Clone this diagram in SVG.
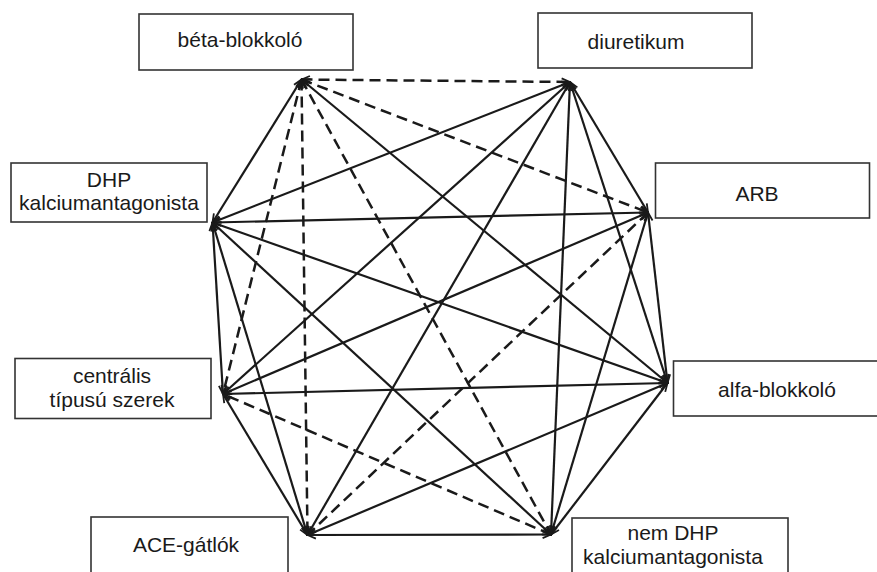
<svg xmlns="http://www.w3.org/2000/svg" width="877" height="572" viewBox="0 0 877 572">
<style>
.box{fill:#fff;stroke:#333;stroke-width:1.6}
.lbl{font-family:"Liberation Sans",Arial,sans-serif;font-size:21px;fill:#1a1a1a;text-anchor:middle}
.e{stroke:#1a1a1a;stroke-width:2.2;fill:none;marker-start:url(#ah);marker-end:url(#ah)}
.d{stroke-dasharray:11 6;stroke-width:2.5}
</style>
<defs>
<marker id="ah" markerUnits="userSpaceOnUse" markerWidth="12" markerHeight="12" refX="0" refY="0" viewBox="-9 -5 10 10" orient="auto-start-reverse">
<path d="M-7,-3 L0,0 L-7,3" fill="none" stroke="#1a1a1a" stroke-width="1.5"/>
</marker>
</defs>
<rect width="877" height="572" fill="#fff"/>
<g id="connectors">
<line class="e d" x1="301.5" y1="79.5" x2="570" y2="82"/>
<line class="e d" x1="301.5" y1="79.5" x2="648" y2="212.5"/>
<line class="e" x1="301.5" y1="79.5" x2="667.5" y2="383"/>
<line class="e d" x1="301.5" y1="79.5" x2="551" y2="534.5"/>
<line class="e d" x1="301.5" y1="79.5" x2="307.5" y2="535"/>
<line class="e d" x1="301.5" y1="79.5" x2="223" y2="394"/>
<line class="e" x1="301.5" y1="79.5" x2="212.5" y2="222.5"/>
<line class="e" x1="570" y1="82" x2="648" y2="212.5"/>
<line class="e" x1="570" y1="82" x2="667.5" y2="383"/>
<line class="e" x1="570" y1="82" x2="551" y2="534.5"/>
<line class="e" x1="570" y1="82" x2="307.5" y2="535"/>
<line class="e" x1="570" y1="82" x2="223" y2="394"/>
<line class="e" x1="570" y1="82" x2="212.5" y2="222.5"/>
<line class="e" x1="648" y1="212.5" x2="667.5" y2="383"/>
<line class="e" x1="648" y1="212.5" x2="551" y2="534.5"/>
<line class="e d" x1="648" y1="212.5" x2="307.5" y2="535"/>
<line class="e" x1="648" y1="212.5" x2="223" y2="394"/>
<line class="e" x1="648" y1="212.5" x2="212.5" y2="222.5"/>
<line class="e" x1="667.5" y1="383" x2="551" y2="534.5"/>
<line class="e" x1="667.5" y1="383" x2="307.5" y2="535"/>
<line class="e" x1="667.5" y1="383" x2="223" y2="394"/>
<line class="e" x1="667.5" y1="383" x2="212.5" y2="222.5"/>
<line class="e" x1="551" y1="534.5" x2="307.5" y2="535"/>
<line class="e d" x1="551" y1="534.5" x2="223" y2="394"/>
<line class="e" x1="551" y1="534.5" x2="212.5" y2="222.5"/>
<line class="e" x1="307.5" y1="535" x2="223" y2="394"/>
<line class="e" x1="307.5" y1="535" x2="212.5" y2="222.5"/>
<line class="e" x1="223" y1="394" x2="212.5" y2="222.5"/>
</g>
<g id="beta">
<rect class="box" x="139" y="14" width="214" height="56"/>
<text class="lbl" x="240" y="47">béta-blokkoló</text>
</g>
<g id="diuretikum">
<rect class="box" x="538" y="13" width="214" height="55"/>
<text class="lbl" x="636" y="49">diuretikum</text>
</g>
<g id="dhp">
<rect class="box" x="11" y="163" width="196" height="59"/>
<text class="lbl" x="109" y="187">DHP</text>
<text class="lbl" x="109" y="210">kalciumantagonista</text>
</g>
<g id="arb">
<rect class="box" x="655.5" y="163" width="214" height="55"/>
<text class="lbl" x="757" y="201">ARB</text>
</g>
<g id="centralis">
<rect class="box" x="15" y="358.5" width="196" height="60"/>
<text class="lbl" x="112" y="383">centrális</text>
<text class="lbl" x="112" y="407">típusú szerek</text>
</g>
<g id="alfa">
<rect class="box" x="673.5" y="361" width="210" height="55"/>
<text class="lbl" x="777" y="397">alfa-blokkoló</text>
</g>
<g id="ace">
<rect class="box" x="91" y="517" width="197" height="70"/>
<text class="lbl" x="186" y="552">ACE-gátlók</text>
</g>
<g id="nemdhp">
<rect class="box" x="572" y="518" width="216" height="70"/>
<text class="lbl" x="673" y="540">nem DHP</text>
<text class="lbl" x="673" y="564">kalciumantagonista</text>
</g>
</svg>
